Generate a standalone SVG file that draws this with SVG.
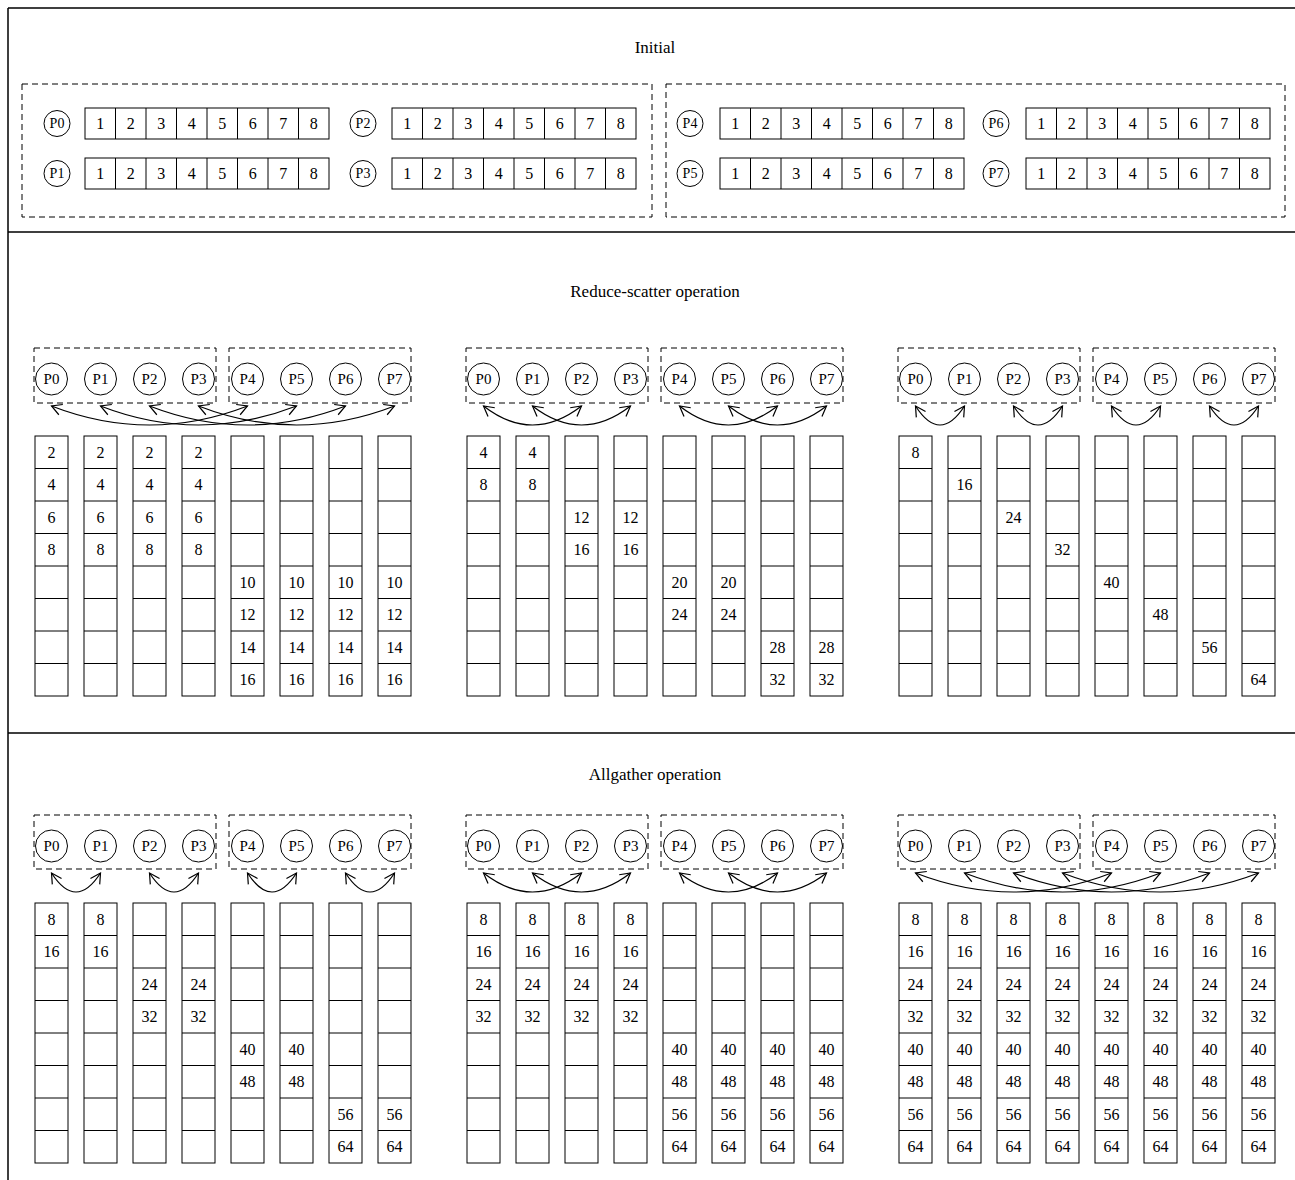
<svg xmlns="http://www.w3.org/2000/svg" xmlns:xlink="http://www.w3.org/1999/xlink" width="1295" height="1180" viewBox="0 0 1295 1180">
<style>
.frame{stroke:#000;stroke-width:1.5;fill:none}
.c{fill:#fff;stroke:#000;stroke-width:1}
.l{fill:none;stroke:#000;stroke-width:1}
.d{fill:none;stroke:#000;stroke-width:1;stroke-dasharray:6,4}
text{font-family:"Liberation Serif","Times New Roman",serif;fill:#000}
.t{font-size:16px;text-anchor:middle;dominant-baseline:central}
.ti{font-size:17px;text-anchor:middle;dominant-baseline:central}
.p{font-size:15px;text-anchor:middle;dominant-baseline:central}
.ps{font-size:14px;text-anchor:middle;dominant-baseline:central}
.a{fill:none;stroke:#000;stroke-width:1.2;marker-start:url(#ah);marker-end:url(#ah)}
</style>
<defs>
<marker id="ah" viewBox="-12 -7 14 14" refX="0" refY="0" markerWidth="14" markerHeight="14" markerUnits="userSpaceOnUse" orient="auto-start-reverse">
<path d="M-10,-5.5 L0,0 L-10,5.5" fill="none" stroke="#000" stroke-width="1.2"/>
</marker>
<g id="col">
<rect class="c" x="0" y="0" width="33" height="260"/>
<path class="l" d="M0,32.5h33M0,65h33M0,97.5h33M0,130h33M0,162.5h33M0,195h33M0,227.5h33"/>
</g>
<g id="row">
<rect class="c" x="0" y="0" width="244" height="31"/>
<path class="l" d="M30.5,0v31M61,0v31M91.5,0v31M122,0v31M152.5,0v31M183,0v31M213.5,0v31"/>
</g>
</defs>
<rect width="1295" height="1180" fill="#fff"/>
<g id="frame">
<path class="frame" d="M8,8H1295M8,8V1180M8,232H1295M8,733H1295"/>
</g>
<g id="titles">
<text class="ti" x="655" y="47">Initial</text>
<text class="ti" x="655" y="291">Reduce-scatter operation</text>
<text class="ti" x="655" y="774">Allgather operation</text>
</g>
<!-- Initial -->
<g id="init-group-left"><rect class="d" x="22" y="84" width="630" height="133"/></g>
<g id="init-group-right"><rect class="d" x="666" y="84" width="619" height="133"/></g>
<g id="init-P0"><circle class="c" cx="57" cy="123.5" r="13"/><text class="ps" x="57" y="123.5">P0</text><use href="#row" x="85" y="108"/><text class="t" x="100.25 130.75 161.25 191.75 222.25 252.75 283.25 313.75" y="123.5">12345678</text></g>
<g id="init-P1"><circle class="c" cx="57" cy="173.5" r="13"/><text class="ps" x="57" y="173.5">P1</text><use href="#row" x="85" y="158"/><text class="t" x="100.25 130.75 161.25 191.75 222.25 252.75 283.25 313.75" y="173.5">12345678</text></g>
<g id="init-P2"><circle class="c" cx="363" cy="123.5" r="13"/><text class="ps" x="363" y="123.5">P2</text><use href="#row" x="392" y="108"/><text class="t" x="407.25 437.75 468.25 498.75 529.25 559.75 590.25 620.75" y="123.5">12345678</text></g>
<g id="init-P3"><circle class="c" cx="363" cy="173.5" r="13"/><text class="ps" x="363" y="173.5">P3</text><use href="#row" x="392" y="158"/><text class="t" x="407.25 437.75 468.25 498.75 529.25 559.75 590.25 620.75" y="173.5">12345678</text></g>
<g id="init-P4"><circle class="c" cx="690" cy="123.5" r="13"/><text class="ps" x="690" y="123.5">P4</text><use href="#row" x="720" y="108"/><text class="t" x="735.25 765.75 796.25 826.75 857.25 887.75 918.25 948.75" y="123.5">12345678</text></g>
<g id="init-P5"><circle class="c" cx="690" cy="173.5" r="13"/><text class="ps" x="690" y="173.5">P5</text><use href="#row" x="720" y="158"/><text class="t" x="735.25 765.75 796.25 826.75 857.25 887.75 918.25 948.75" y="173.5">12345678</text></g>
<g id="init-P6"><circle class="c" cx="996" cy="123.5" r="13"/><text class="ps" x="996" y="123.5">P6</text><use href="#row" x="1026" y="108"/><text class="t" x="1041.25 1071.75 1102.25 1132.75 1163.25 1193.75 1224.25 1254.75" y="123.5">12345678</text></g>
<g id="init-P7"><circle class="c" cx="996" cy="173.5" r="13"/><text class="ps" x="996" y="173.5">P7</text><use href="#row" x="1026" y="158"/><text class="t" x="1041.25 1071.75 1102.25 1132.75 1163.25 1193.75 1224.25 1254.75" y="173.5">12345678</text></g>

<!-- Reduce-scatter groups -->
<g id="rs-groups">
<rect class="d" x="34" y="348" width="182" height="55"/><rect class="d" x="229" y="348" width="182" height="55"/>
<rect class="d" x="466" y="348" width="182" height="55"/><rect class="d" x="661" y="348" width="182" height="55"/>
<rect class="d" x="898" y="348" width="182" height="55"/><rect class="d" x="1093" y="348" width="182" height="55"/>
</g>
<g id="rs1-procs">
<g id="rs1-P0"><circle class="c" cx="51.5" cy="379" r="16"/><text class="p" x="51.5" y="379">P0</text></g>
<g id="rs1-P1"><circle class="c" cx="100.5" cy="379" r="16"/><text class="p" x="100.5" y="379">P1</text></g>
<g id="rs1-P2"><circle class="c" cx="149.5" cy="379" r="16"/><text class="p" x="149.5" y="379">P2</text></g>
<g id="rs1-P3"><circle class="c" cx="198.5" cy="379" r="16"/><text class="p" x="198.5" y="379">P3</text></g>
<g id="rs1-P4"><circle class="c" cx="247.5" cy="379" r="16"/><text class="p" x="247.5" y="379">P4</text></g>
<g id="rs1-P5"><circle class="c" cx="296.5" cy="379" r="16"/><text class="p" x="296.5" y="379">P5</text></g>
<g id="rs1-P6"><circle class="c" cx="345.5" cy="379" r="16"/><text class="p" x="345.5" y="379">P6</text></g>
<g id="rs1-P7"><circle class="c" cx="394.5" cy="379" r="16"/><text class="p" x="394.5" y="379">P7</text></g>
</g>
<g id="rs2-procs">
<g id="rs2-P0"><circle class="c" cx="483.5" cy="379" r="16"/><text class="p" x="483.5" y="379">P0</text></g>
<g id="rs2-P1"><circle class="c" cx="532.5" cy="379" r="16"/><text class="p" x="532.5" y="379">P1</text></g>
<g id="rs2-P2"><circle class="c" cx="581.5" cy="379" r="16"/><text class="p" x="581.5" y="379">P2</text></g>
<g id="rs2-P3"><circle class="c" cx="630.5" cy="379" r="16"/><text class="p" x="630.5" y="379">P3</text></g>
<g id="rs2-P4"><circle class="c" cx="679.5" cy="379" r="16"/><text class="p" x="679.5" y="379">P4</text></g>
<g id="rs2-P5"><circle class="c" cx="728.5" cy="379" r="16"/><text class="p" x="728.5" y="379">P5</text></g>
<g id="rs2-P6"><circle class="c" cx="777.5" cy="379" r="16"/><text class="p" x="777.5" y="379">P6</text></g>
<g id="rs2-P7"><circle class="c" cx="826.5" cy="379" r="16"/><text class="p" x="826.5" y="379">P7</text></g>
</g>
<g id="rs3-procs">
<g id="rs3-P0"><circle class="c" cx="915.5" cy="379" r="16"/><text class="p" x="915.5" y="379">P0</text></g>
<g id="rs3-P1"><circle class="c" cx="964.5" cy="379" r="16"/><text class="p" x="964.5" y="379">P1</text></g>
<g id="rs3-P2"><circle class="c" cx="1013.5" cy="379" r="16"/><text class="p" x="1013.5" y="379">P2</text></g>
<g id="rs3-P3"><circle class="c" cx="1062.5" cy="379" r="16"/><text class="p" x="1062.5" y="379">P3</text></g>
<g id="rs3-P4"><circle class="c" cx="1111.5" cy="379" r="16"/><text class="p" x="1111.5" y="379">P4</text></g>
<g id="rs3-P5"><circle class="c" cx="1160.5" cy="379" r="16"/><text class="p" x="1160.5" y="379">P5</text></g>
<g id="rs3-P6"><circle class="c" cx="1209.5" cy="379" r="16"/><text class="p" x="1209.5" y="379">P6</text></g>
<g id="rs3-P7"><circle class="c" cx="1258.5" cy="379" r="16"/><text class="p" x="1258.5" y="379">P7</text></g>
</g>

<!-- Allgather groups -->
<g id="ag-groups">
<rect class="d" x="34" y="815" width="182" height="54"/><rect class="d" x="229" y="815" width="182" height="54"/>
<rect class="d" x="466" y="815" width="182" height="54"/><rect class="d" x="661" y="815" width="182" height="54"/>
<rect class="d" x="898" y="815" width="182" height="54"/><rect class="d" x="1093" y="815" width="182" height="54"/>
</g>
<g id="ag1-procs">
<g id="ag1-P0"><circle class="c" cx="51.5" cy="846" r="16"/><text class="p" x="51.5" y="846">P0</text></g>
<g id="ag1-P1"><circle class="c" cx="100.5" cy="846" r="16"/><text class="p" x="100.5" y="846">P1</text></g>
<g id="ag1-P2"><circle class="c" cx="149.5" cy="846" r="16"/><text class="p" x="149.5" y="846">P2</text></g>
<g id="ag1-P3"><circle class="c" cx="198.5" cy="846" r="16"/><text class="p" x="198.5" y="846">P3</text></g>
<g id="ag1-P4"><circle class="c" cx="247.5" cy="846" r="16"/><text class="p" x="247.5" y="846">P4</text></g>
<g id="ag1-P5"><circle class="c" cx="296.5" cy="846" r="16"/><text class="p" x="296.5" y="846">P5</text></g>
<g id="ag1-P6"><circle class="c" cx="345.5" cy="846" r="16"/><text class="p" x="345.5" y="846">P6</text></g>
<g id="ag1-P7"><circle class="c" cx="394.5" cy="846" r="16"/><text class="p" x="394.5" y="846">P7</text></g>
</g>
<g id="ag2-procs">
<g id="ag2-P0"><circle class="c" cx="483.5" cy="846" r="16"/><text class="p" x="483.5" y="846">P0</text></g>
<g id="ag2-P1"><circle class="c" cx="532.5" cy="846" r="16"/><text class="p" x="532.5" y="846">P1</text></g>
<g id="ag2-P2"><circle class="c" cx="581.5" cy="846" r="16"/><text class="p" x="581.5" y="846">P2</text></g>
<g id="ag2-P3"><circle class="c" cx="630.5" cy="846" r="16"/><text class="p" x="630.5" y="846">P3</text></g>
<g id="ag2-P4"><circle class="c" cx="679.5" cy="846" r="16"/><text class="p" x="679.5" y="846">P4</text></g>
<g id="ag2-P5"><circle class="c" cx="728.5" cy="846" r="16"/><text class="p" x="728.5" y="846">P5</text></g>
<g id="ag2-P6"><circle class="c" cx="777.5" cy="846" r="16"/><text class="p" x="777.5" y="846">P6</text></g>
<g id="ag2-P7"><circle class="c" cx="826.5" cy="846" r="16"/><text class="p" x="826.5" y="846">P7</text></g>
</g>
<g id="ag3-procs">
<g id="ag3-P0"><circle class="c" cx="915.5" cy="846" r="16"/><text class="p" x="915.5" y="846">P0</text></g>
<g id="ag3-P1"><circle class="c" cx="964.5" cy="846" r="16"/><text class="p" x="964.5" y="846">P1</text></g>
<g id="ag3-P2"><circle class="c" cx="1013.5" cy="846" r="16"/><text class="p" x="1013.5" y="846">P2</text></g>
<g id="ag3-P3"><circle class="c" cx="1062.5" cy="846" r="16"/><text class="p" x="1062.5" y="846">P3</text></g>
<g id="ag3-P4"><circle class="c" cx="1111.5" cy="846" r="16"/><text class="p" x="1111.5" y="846">P4</text></g>
<g id="ag3-P5"><circle class="c" cx="1160.5" cy="846" r="16"/><text class="p" x="1160.5" y="846">P5</text></g>
<g id="ag3-P6"><circle class="c" cx="1209.5" cy="846" r="16"/><text class="p" x="1209.5" y="846">P6</text></g>
<g id="ag3-P7"><circle class="c" cx="1258.5" cy="846" r="16"/><text class="p" x="1258.5" y="846">P7</text></g>
</g>

<!-- connectors -->
<g id="connectors">
<path class="a" d="M51.5,406 Q149.5,444 247.5,406"/>
<path class="a" d="M100.5,406 Q198.5,444 296.5,406"/>
<path class="a" d="M149.5,406 Q247.5,444 345.5,406"/>
<path class="a" d="M198.5,406 Q296.5,444 394.5,406"/>
<path class="a" d="M483.5,406 Q532.5,444 581.5,406"/>
<path class="a" d="M532.5,406 Q581.5,444 630.5,406"/>
<path class="a" d="M679.5,406 Q728.5,444 777.5,406"/>
<path class="a" d="M728.5,406 Q777.5,444 826.5,406"/>
<path class="a" d="M915.5,406 Q940,444 964.5,406"/>
<path class="a" d="M1013.5,406 Q1038,444 1062.5,406"/>
<path class="a" d="M1111.5,406 Q1136,444 1160.5,406"/>
<path class="a" d="M1209.5,406 Q1234,444 1258.5,406"/>
<path class="a" d="M51.5,873 Q76,911 100.5,873"/>
<path class="a" d="M149.5,873 Q174,911 198.5,873"/>
<path class="a" d="M247.5,873 Q272,911 296.5,873"/>
<path class="a" d="M345.5,873 Q370,911 394.5,873"/>
<path class="a" d="M483.5,873 Q532.5,911 581.5,873"/>
<path class="a" d="M532.5,873 Q581.5,911 630.5,873"/>
<path class="a" d="M679.5,873 Q728.5,911 777.5,873"/>
<path class="a" d="M728.5,873 Q777.5,911 826.5,873"/>
<path class="a" d="M915.5,873 Q1013.5,911 1111.5,873"/>
<path class="a" d="M964.5,873 Q1062.5,911 1160.5,873"/>
<path class="a" d="M1013.5,873 Q1111.5,911 1209.5,873"/>
<path class="a" d="M1062.5,873 Q1160.5,911 1258.5,873"/>
</g>

<!-- Reduce-scatter buffers -->
<g id="rs1-buf">
<g id="rs1-B0"><use href="#col" x="35" y="436"/><text class="t" x="51.5" y="452.25">2</text><text class="t" x="51.5" y="484.75">4</text><text class="t" x="51.5" y="517.25">6</text><text class="t" x="51.5" y="549.75">8</text></g>
<g id="rs1-B1"><use href="#col" x="84" y="436"/><text class="t" x="100.5" y="452.25">2</text><text class="t" x="100.5" y="484.75">4</text><text class="t" x="100.5" y="517.25">6</text><text class="t" x="100.5" y="549.75">8</text></g>
<g id="rs1-B2"><use href="#col" x="133" y="436"/><text class="t" x="149.5" y="452.25">2</text><text class="t" x="149.5" y="484.75">4</text><text class="t" x="149.5" y="517.25">6</text><text class="t" x="149.5" y="549.75">8</text></g>
<g id="rs1-B3"><use href="#col" x="182" y="436"/><text class="t" x="198.5" y="452.25">2</text><text class="t" x="198.5" y="484.75">4</text><text class="t" x="198.5" y="517.25">6</text><text class="t" x="198.5" y="549.75">8</text></g>
<g id="rs1-B4"><use href="#col" x="231" y="436"/><text class="t" x="247.5" y="582.25">10</text><text class="t" x="247.5" y="614.75">12</text><text class="t" x="247.5" y="647.25">14</text><text class="t" x="247.5" y="679.75">16</text></g>
<g id="rs1-B5"><use href="#col" x="280" y="436"/><text class="t" x="296.5" y="582.25">10</text><text class="t" x="296.5" y="614.75">12</text><text class="t" x="296.5" y="647.25">14</text><text class="t" x="296.5" y="679.75">16</text></g>
<g id="rs1-B6"><use href="#col" x="329" y="436"/><text class="t" x="345.5" y="582.25">10</text><text class="t" x="345.5" y="614.75">12</text><text class="t" x="345.5" y="647.25">14</text><text class="t" x="345.5" y="679.75">16</text></g>
<g id="rs1-B7"><use href="#col" x="378" y="436"/><text class="t" x="394.5" y="582.25">10</text><text class="t" x="394.5" y="614.75">12</text><text class="t" x="394.5" y="647.25">14</text><text class="t" x="394.5" y="679.75">16</text></g>
</g>
<g id="rs2-buf">
<g id="rs2-B0"><use href="#col" x="467" y="436"/><text class="t" x="483.5" y="452.25">4</text><text class="t" x="483.5" y="484.75">8</text></g>
<g id="rs2-B1"><use href="#col" x="516" y="436"/><text class="t" x="532.5" y="452.25">4</text><text class="t" x="532.5" y="484.75">8</text></g>
<g id="rs2-B2"><use href="#col" x="565" y="436"/><text class="t" x="581.5" y="517.25">12</text><text class="t" x="581.5" y="549.75">16</text></g>
<g id="rs2-B3"><use href="#col" x="614" y="436"/><text class="t" x="630.5" y="517.25">12</text><text class="t" x="630.5" y="549.75">16</text></g>
<g id="rs2-B4"><use href="#col" x="663" y="436"/><text class="t" x="679.5" y="582.25">20</text><text class="t" x="679.5" y="614.75">24</text></g>
<g id="rs2-B5"><use href="#col" x="712" y="436"/><text class="t" x="728.5" y="582.25">20</text><text class="t" x="728.5" y="614.75">24</text></g>
<g id="rs2-B6"><use href="#col" x="761" y="436"/><text class="t" x="777.5" y="647.25">28</text><text class="t" x="777.5" y="679.75">32</text></g>
<g id="rs2-B7"><use href="#col" x="810" y="436"/><text class="t" x="826.5" y="647.25">28</text><text class="t" x="826.5" y="679.75">32</text></g>
</g>
<g id="rs3-buf">
<g id="rs3-B0"><use href="#col" x="899" y="436"/><text class="t" x="915.5" y="452.25">8</text></g>
<g id="rs3-B1"><use href="#col" x="948" y="436"/><text class="t" x="964.5" y="484.75">16</text></g>
<g id="rs3-B2"><use href="#col" x="997" y="436"/><text class="t" x="1013.5" y="517.25">24</text></g>
<g id="rs3-B3"><use href="#col" x="1046" y="436"/><text class="t" x="1062.5" y="549.75">32</text></g>
<g id="rs3-B4"><use href="#col" x="1095" y="436"/><text class="t" x="1111.5" y="582.25">40</text></g>
<g id="rs3-B5"><use href="#col" x="1144" y="436"/><text class="t" x="1160.5" y="614.75">48</text></g>
<g id="rs3-B6"><use href="#col" x="1193" y="436"/><text class="t" x="1209.5" y="647.25">56</text></g>
<g id="rs3-B7"><use href="#col" x="1242" y="436"/><text class="t" x="1258.5" y="679.75">64</text></g>
</g>

<!-- Allgather buffers -->
<g id="ag1-buf">
<g id="ag1-B0"><use href="#col" x="35" y="903"/><text class="t" x="51.5" y="919.25">8</text><text class="t" x="51.5" y="951.75">16</text></g>
<g id="ag1-B1"><use href="#col" x="84" y="903"/><text class="t" x="100.5" y="919.25">8</text><text class="t" x="100.5" y="951.75">16</text></g>
<g id="ag1-B2"><use href="#col" x="133" y="903"/><text class="t" x="149.5" y="984.25">24</text><text class="t" x="149.5" y="1016.75">32</text></g>
<g id="ag1-B3"><use href="#col" x="182" y="903"/><text class="t" x="198.5" y="984.25">24</text><text class="t" x="198.5" y="1016.75">32</text></g>
<g id="ag1-B4"><use href="#col" x="231" y="903"/><text class="t" x="247.5" y="1049.25">40</text><text class="t" x="247.5" y="1081.75">48</text></g>
<g id="ag1-B5"><use href="#col" x="280" y="903"/><text class="t" x="296.5" y="1049.25">40</text><text class="t" x="296.5" y="1081.75">48</text></g>
<g id="ag1-B6"><use href="#col" x="329" y="903"/><text class="t" x="345.5" y="1114.25">56</text><text class="t" x="345.5" y="1146.75">64</text></g>
<g id="ag1-B7"><use href="#col" x="378" y="903"/><text class="t" x="394.5" y="1114.25">56</text><text class="t" x="394.5" y="1146.75">64</text></g>
</g>
<g id="ag2-buf">
<g id="ag2-B0"><use href="#col" x="467" y="903"/><text class="t" x="483.5" y="919.25">8</text><text class="t" x="483.5" y="951.75">16</text><text class="t" x="483.5" y="984.25">24</text><text class="t" x="483.5" y="1016.75">32</text></g>
<g id="ag2-B1"><use href="#col" x="516" y="903"/><text class="t" x="532.5" y="919.25">8</text><text class="t" x="532.5" y="951.75">16</text><text class="t" x="532.5" y="984.25">24</text><text class="t" x="532.5" y="1016.75">32</text></g>
<g id="ag2-B2"><use href="#col" x="565" y="903"/><text class="t" x="581.5" y="919.25">8</text><text class="t" x="581.5" y="951.75">16</text><text class="t" x="581.5" y="984.25">24</text><text class="t" x="581.5" y="1016.75">32</text></g>
<g id="ag2-B3"><use href="#col" x="614" y="903"/><text class="t" x="630.5" y="919.25">8</text><text class="t" x="630.5" y="951.75">16</text><text class="t" x="630.5" y="984.25">24</text><text class="t" x="630.5" y="1016.75">32</text></g>
<g id="ag2-B4"><use href="#col" x="663" y="903"/><text class="t" x="679.5" y="1049.25">40</text><text class="t" x="679.5" y="1081.75">48</text><text class="t" x="679.5" y="1114.25">56</text><text class="t" x="679.5" y="1146.75">64</text></g>
<g id="ag2-B5"><use href="#col" x="712" y="903"/><text class="t" x="728.5" y="1049.25">40</text><text class="t" x="728.5" y="1081.75">48</text><text class="t" x="728.5" y="1114.25">56</text><text class="t" x="728.5" y="1146.75">64</text></g>
<g id="ag2-B6"><use href="#col" x="761" y="903"/><text class="t" x="777.5" y="1049.25">40</text><text class="t" x="777.5" y="1081.75">48</text><text class="t" x="777.5" y="1114.25">56</text><text class="t" x="777.5" y="1146.75">64</text></g>
<g id="ag2-B7"><use href="#col" x="810" y="903"/><text class="t" x="826.5" y="1049.25">40</text><text class="t" x="826.5" y="1081.75">48</text><text class="t" x="826.5" y="1114.25">56</text><text class="t" x="826.5" y="1146.75">64</text></g>
</g>
<g id="ag3-buf">
<g id="ag3-B0"><use href="#col" x="899" y="903"/><text class="t" x="915.5" y="919.25">8</text><text class="t" x="915.5" y="951.75">16</text><text class="t" x="915.5" y="984.25">24</text><text class="t" x="915.5" y="1016.75">32</text><text class="t" x="915.5" y="1049.25">40</text><text class="t" x="915.5" y="1081.75">48</text><text class="t" x="915.5" y="1114.25">56</text><text class="t" x="915.5" y="1146.75">64</text></g>
<g id="ag3-B1"><use href="#col" x="948" y="903"/><text class="t" x="964.5" y="919.25">8</text><text class="t" x="964.5" y="951.75">16</text><text class="t" x="964.5" y="984.25">24</text><text class="t" x="964.5" y="1016.75">32</text><text class="t" x="964.5" y="1049.25">40</text><text class="t" x="964.5" y="1081.75">48</text><text class="t" x="964.5" y="1114.25">56</text><text class="t" x="964.5" y="1146.75">64</text></g>
<g id="ag3-B2"><use href="#col" x="997" y="903"/><text class="t" x="1013.5" y="919.25">8</text><text class="t" x="1013.5" y="951.75">16</text><text class="t" x="1013.5" y="984.25">24</text><text class="t" x="1013.5" y="1016.75">32</text><text class="t" x="1013.5" y="1049.25">40</text><text class="t" x="1013.5" y="1081.75">48</text><text class="t" x="1013.5" y="1114.25">56</text><text class="t" x="1013.5" y="1146.75">64</text></g>
<g id="ag3-B3"><use href="#col" x="1046" y="903"/><text class="t" x="1062.5" y="919.25">8</text><text class="t" x="1062.5" y="951.75">16</text><text class="t" x="1062.5" y="984.25">24</text><text class="t" x="1062.5" y="1016.75">32</text><text class="t" x="1062.5" y="1049.25">40</text><text class="t" x="1062.5" y="1081.75">48</text><text class="t" x="1062.5" y="1114.25">56</text><text class="t" x="1062.5" y="1146.75">64</text></g>
<g id="ag3-B4"><use href="#col" x="1095" y="903"/><text class="t" x="1111.5" y="919.25">8</text><text class="t" x="1111.5" y="951.75">16</text><text class="t" x="1111.5" y="984.25">24</text><text class="t" x="1111.5" y="1016.75">32</text><text class="t" x="1111.5" y="1049.25">40</text><text class="t" x="1111.5" y="1081.75">48</text><text class="t" x="1111.5" y="1114.25">56</text><text class="t" x="1111.5" y="1146.75">64</text></g>
<g id="ag3-B5"><use href="#col" x="1144" y="903"/><text class="t" x="1160.5" y="919.25">8</text><text class="t" x="1160.5" y="951.75">16</text><text class="t" x="1160.5" y="984.25">24</text><text class="t" x="1160.5" y="1016.75">32</text><text class="t" x="1160.5" y="1049.25">40</text><text class="t" x="1160.5" y="1081.75">48</text><text class="t" x="1160.5" y="1114.25">56</text><text class="t" x="1160.5" y="1146.75">64</text></g>
<g id="ag3-B6"><use href="#col" x="1193" y="903"/><text class="t" x="1209.5" y="919.25">8</text><text class="t" x="1209.5" y="951.75">16</text><text class="t" x="1209.5" y="984.25">24</text><text class="t" x="1209.5" y="1016.75">32</text><text class="t" x="1209.5" y="1049.25">40</text><text class="t" x="1209.5" y="1081.75">48</text><text class="t" x="1209.5" y="1114.25">56</text><text class="t" x="1209.5" y="1146.75">64</text></g>
<g id="ag3-B7"><use href="#col" x="1242" y="903"/><text class="t" x="1258.5" y="919.25">8</text><text class="t" x="1258.5" y="951.75">16</text><text class="t" x="1258.5" y="984.25">24</text><text class="t" x="1258.5" y="1016.75">32</text><text class="t" x="1258.5" y="1049.25">40</text><text class="t" x="1258.5" y="1081.75">48</text><text class="t" x="1258.5" y="1114.25">56</text><text class="t" x="1258.5" y="1146.75">64</text></g>
</g>
</svg>
